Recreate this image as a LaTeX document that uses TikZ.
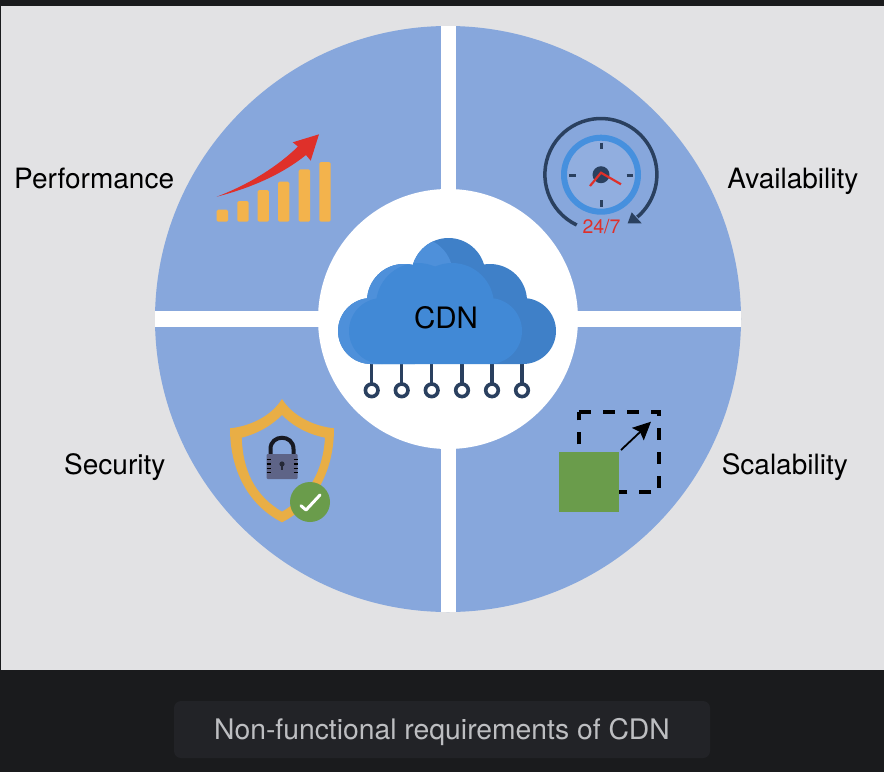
\documentclass[tikz,border=0pt]{standalone}
\usepackage{xcolor}
\usepackage{fontspec}
\setmainfont{TeX Gyre Heros}
\usetikzlibrary{arrows.meta}
\definecolor{pagedark}{HTML}{1A1B1D}
\definecolor{capbox}{HTML}{222327}
\definecolor{captext}{HTML}{BDBEC1}
\definecolor{panel}{HTML}{E2E2E4}
\definecolor{sector}{HTML}{87A7DC}
\definecolor{cloudback}{HTML}{3F80C8}
\definecolor{cloudrim}{HTML}{4E90DA}
\definecolor{cloudfront}{HTML}{4189D6}
\definecolor{navy}{HTML}{2A405F}
\definecolor{barcol}{HTML}{F3B34C}
\definecolor{redcol}{HTML}{DF302A}
\definecolor{ringcol}{HTML}{4690DE}
\definecolor{shieldcol}{HTML}{E9AE45}
\definecolor{lockcol}{HTML}{5E6487}
\definecolor{greencol}{HTML}{6A9C4B}
\newcommand\cloudoutline{
  (371,331) circle[radius=33]
  (404,301) circle[radius=37]
  (448.5,275) circle[radius=37]
  (490,301) circle[radius=37]
  (523,331) circle[radius=33]
  (371,300) -- (523,300) -- (523,364) -- (371,364) -- cycle
}
\tikzset{
  label text/.style={font=\fontsize{28}{30}\selectfont,text=black,inner sep=0pt},
  gap bar/.style={fill=white,draw=none},
  clock tick/.style={navy,line width=3pt},
  lock notch/.style={black,line width=1.4pt}
}
\begin{document}
\begin{tikzpicture}[x=1pt,y=-1pt]
  \useasboundingbox (0,0) rectangle (884,772);
  \fill[pagedark] (0,0) rectangle (884,772);
  \fill[panel] (1,6) rectangle (884,670);

  % wheel
  \fill[sector] (448,319) circle[radius=293];
  \fill[gap bar] (441,26) rectangle (456,612);
  \fill[gap bar] (155,311) rectangle (741,327);
  \fill[white] (448,319) circle[radius=130];

  % cloud
  \foreach \x in {371.7,401.7,431.7,462,492,522}{
    \draw[navy,line width=3.5pt] (\x,360) -- (\x,384);
    \draw[navy,line width=3.6pt,fill=white] (\x,390.3) circle[radius=6.3];
  }
  \begin{scope}
    \clip \cloudoutline;
    \fill[cloudback] (330,230) rectangle (560,370);
    \fill[cloudrim] (330,230) rectangle (415,370);
    \fill[cloudrim] (415,275) circle[radius=38];
    \fill[cloudfront] (382,331) circle[radius=33];
    \fill[cloudfront] (418,305) circle[radius=42];
    \fill[cloudfront] (452,305) circle[radius=42];
    \fill[cloudfront] (489,331) circle[radius=33];
    \fill[cloudfront] (382,320) rectangle (489,364);
  \end{scope}

  % performance
  \foreach \xa/\ytop in {216.7/209.7,237.3/201,257.5/190,278/181.7,298.7/169.3,319.3/162}{
    \fill[barcol,rounded corners=1.5pt] (\xa,\ytop) rectangle ({\xa+11.4},221.7);
  }
  \fill[redcol] (216.7,196.7) .. controls (250,184) and (278,166) .. (298,146.5)
    -- (292.7,142.3) -- (319,134.3) -- (310.7,160.7) -- (306,155)
    .. controls (285,172) and (255,187) .. cycle;

  % availability
  \draw[ringcol,line width=6pt,fill=sector!92!white] (601,174.7) circle[radius=37];
  \draw[clock tick] (601,142.7) -- (601,149);
  \draw[clock tick] (601,200) -- (601,206.5);
  \draw[clock tick] (569,175) -- (575.5,175);
  \draw[clock tick] (626.5,175) -- (633,175);
  \fill[navy] (601,174.7) circle[radius=8.5];
  \draw[redcol,line width=2.2pt] (590,186) -- (601,172.7) -- (621,184.3);
  \draw[navy,line width=3.5pt] (576.7,225) arc[start angle=115.6,end angle=409.4,radius=56];
  \fill[navy] (627.7,223.3) -- (641.7,223.3) -- (631.7,212.3) -- cycle;
  \node[font=\fontsize{19.5}{20}\selectfont,text=redcol,inner sep=0pt,anchor=base] (hours) at (601.5,233.5) {24/7};

  % security
  \fill[shieldcol,even odd rule] (282,399) .. controls (292,415) and (312,426) .. (334,428.3)
    .. controls (334,470) and (316,505) .. (282,522.3)
    .. controls (248,505) and (230,470) .. (230,428.3)
    .. controls (252,426) and (272,415) .. cycle
    (282,415) .. controls (294,427) and (308,434) .. (325,437.7)
    .. controls (323,470) and (310,495) .. (282,511.7)
    .. controls (254,495) and (243,470) .. (241.7,437.7)
    .. controls (256,434) and (270,427) .. cycle;
  \draw[black!75!lockcol,line width=4pt] (270.5,455) -- (270.5,449)
    .. controls (270.5,434) and (293.5,434) .. (293.5,449) -- (293.5,455);
  \fill[lockcol,rounded corners=1pt] (266.7,454) rectangle (297.7,479);
  \foreach \y in {459.3,464,468.3,472.7}{
    \draw[lock notch] (266.7,\y) -- (270.7,\y);
    \draw[lock notch] (293.7,\y) -- (297.7,\y);
  }
  \fill[black!60!lockcol] (282,464) circle[radius=2.6];
  \draw[black!60!lockcol,line width=1.6pt] (282,465) -- (282,470);
  \fill[greencol] (310,502) circle[radius=20];
  \draw[white,line width=3pt,line cap=round,line join=round] (301,505.7) -- (306,510) -- (320,495);

  % scalability
  \draw[black,line width=4.2pt,dash pattern=on 12pt off 12pt]
    (579.3,412.3) -- (659.3,412.3) -- (659.3,492.3) -- (579.3,492.3) -- cycle;
  \fill[greencol] (559.3,451.7) rectangle (619.3,511.7);
  \coordinate (growstart) at (621,450);
  \coordinate (growend) at (651,421.7);
  \draw[-{Stealth[length=18pt,width=17pt,inset=3pt]},black,line width=1.8pt] (growstart) -- (growend);

  % labels
  \node[label text,anchor=base west] (perf) at (14,188) {Performance};
  \node[label text,anchor=base east] (avail) at (858.5,188) {Availability};
  \node[label text,anchor=base west] (secur) at (64,474) {Security};
  \node[label text,anchor=base east] (scale) at (848,474) {Scalability};
  \node[font=\fontsize{29.5}{30}\selectfont,text=black,inner sep=0pt,anchor=base] (cdn) at (446,328) {CDN};

  % caption
  \fill[capbox,rounded corners=7pt] (174,701) rectangle (710,758);
  \node[font=\fontsize{28.3}{30}\selectfont,text=captext,inner sep=0pt,anchor=base] (caption) at (442,739.5) {Non-functional requirements of CDN};
\end{tikzpicture}
\end{document}
